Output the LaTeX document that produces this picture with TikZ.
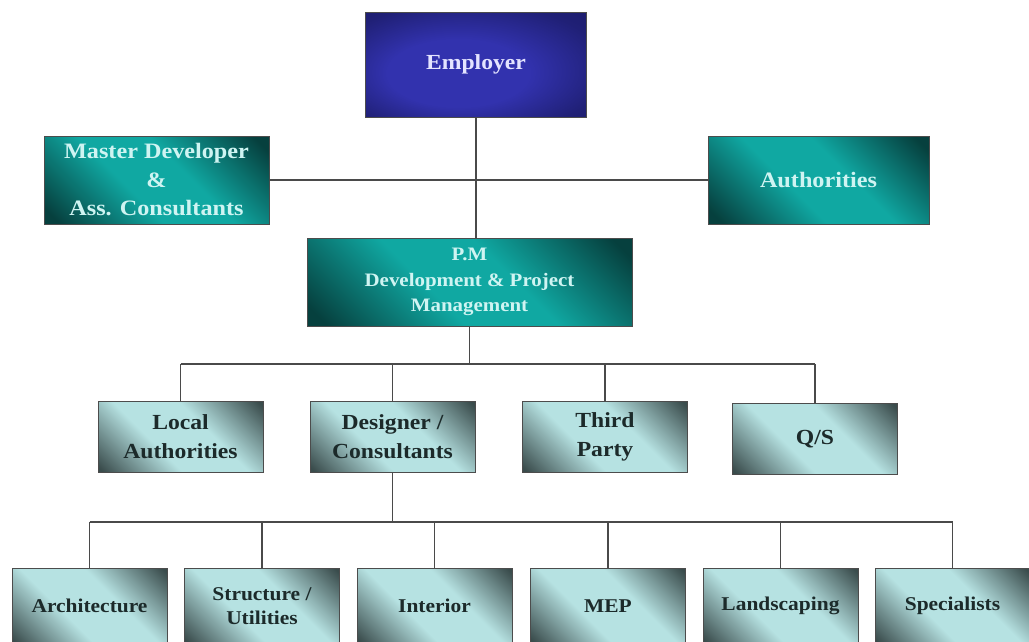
\documentclass[tikz,border=0pt]{standalone}
\usepackage{fontspec}
\setmainfont[FakeStretch=1.1]{Liberation Serif}
\definecolor{lnc}{HTML}{4A4A4A}
\definecolor{bluelt}{HTML}{3232AE}
\definecolor{bluedk}{HTML}{18185E}
\definecolor{teallt}{HTML}{10A8A2}
\definecolor{tealdk}{HTML}{06403E}
\definecolor{cyanlt}{HTML}{B6E2E2}
\definecolor{cyandk}{HTML}{3A4C4C}
\definecolor{tealtxt}{HTML}{CFF4F2}
\definecolor{bluetxt}{HTML}{E4E4FF}
\definecolor{darktxt}{HTML}{1C2A2A}
\pgfdeclarehorizontalshading{tealsh}{100bp}{color(0bp)=(tealdk); color(18bp)=(tealdk); color(42bp)=(teallt); color(58bp)=(teallt); color(82bp)=(tealdk); color(100bp)=(tealdk)}
\pgfdeclarehorizontalshading{cyansh}{100bp}{color(0bp)=(cyandk); color(16bp)=(cyandk); color(40bp)=(cyanlt); color(60bp)=(cyanlt); color(84bp)=(cyandk); color(100bp)=(cyandk)}
\pgfdeclareradialshading{bluesh}{\pgfpoint{-6bp}{-6bp}}{color(0bp)=(bluelt); color(16bp)=(bluelt); color(32bp)=(bluedk!70!bluelt); color(50bp)=(bluedk)}
\tikzset{
  box/.style={draw=gray!60!black, line width=0.8pt, align=center, inner sep=2pt, font=\bfseries},
  bluebox/.style={box, shading=bluesh, text=bluetxt, minimum width=221pt, minimum height=105pt, font=\bfseries\fontsize{21.5}{27}\selectfont},
  tealbox/.style={box, shading=tealsh, shading angle=45, text=tealtxt, font=\bfseries\fontsize{22}{28.5}\selectfont},
  midbox/.style={box, shading=cyansh, shading angle=45, text=darktxt, minimum width=165pt, minimum height=71pt, font=\bfseries\fontsize{21.5}{29}\selectfont},
  lowbox/.style={box, shading=cyansh, shading angle=45, text=darktxt, minimum width=155pt, minimum height=76pt, font=\bfseries\fontsize{19.5}{24}\selectfont},
  conn/.style={draw=lnc, line width=1.4pt}
}
\begin{document}
\begin{tikzpicture}[x=1pt,y=-1pt]
\useasboundingbox (0,0) rectangle (1029,641);
\fill[white] (0,0) rectangle (1029,641);
% nodes
\node[bluebox] (emp) at (476,64.5) {Employer};
\node[tealbox, minimum width=225pt, minimum height=88pt] (mdev) at (156.5,180) {Master Developer\\\&\\Ass. Consultants};
\node[tealbox, minimum width=221pt, minimum height=88pt] (auth) at (818.5,180) {Authorities};
\node[tealbox, minimum width=325pt, minimum height=88pt, font=\bfseries\fontsize{19}{25.5}\selectfont] (pm) at (469.5,282) {P.M\\Development \& Project\\Management};
\node[midbox] (local) at (180.5,436.5) {Local\\Authorities};
\node[midbox] (des) at (392.5,436.5) {Designer /\\Consultants};
\node[midbox] (third) at (605,437) {Third\\Party};
\node[midbox] (qs) at (815,439) {Q/S};
\node[lowbox] (arch) at (89.5,606) {Architecture};
\node[lowbox] (struct) at (262,606) {Structure /\\Utilities};
\node[lowbox] (inter) at (434.5,606) {Interior};
\node[lowbox] (mep) at (608,606) {MEP};
\node[lowbox] (land) at (780.5,606) {Landscaping};
\node[lowbox] (spec) at (952.5,606) {Specialists};
% bus coordinates
\coordinate (bus1) at (469.5,364);
\coordinate (bus2) at (392.5,522);
% connectors
\draw[conn] (mdev.east) -- (auth.west);
\draw[conn] (emp.south) -- (emp.south |- pm.north);
\draw[conn] (pm.south) -- (bus1);
\draw[conn] (local.north |- bus1) -- (qs.north |- bus1);
\foreach \n in {local,des,third,qs} \draw[conn] (\n.north) -- (\n.north |- bus1);
\draw[conn] (des.south) -- (bus2);
\draw[conn] (arch.north |- bus2) -- (spec.north |- bus2);
\foreach \n in {arch,struct,inter,mep,land,spec} \draw[conn] (\n.north) -- (\n.north |- bus2);
\end{tikzpicture}
\end{document}
